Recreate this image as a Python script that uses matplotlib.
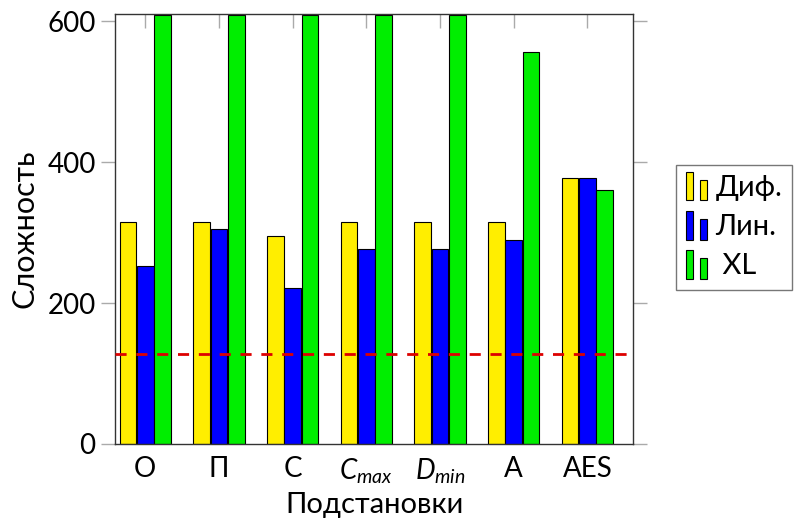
import matplotlib
matplotlib.use('agg')
import matplotlib.pyplot as plt
from matplotlib.patches import Rectangle
import numpy as np

plt.rcParams['font.family'] = ['Lato', 'DejaVu Sans']
plt.rcParams['mathtext.fontset'] = 'custom'
plt.rcParams['mathtext.rm'] = 'Lato'
plt.rcParams['mathtext.it'] = 'Lato:italic'
plt.rcParams['font.size'] = 20

# data
categories = ['O', 'П', 'C', '$C_{max}$', '$D_{min}$', 'A', 'AES']
series_names = ['Диф.', 'Лин.', 'XL']
dif_vals = [315, 315, 295, 315, 315, 315, 378]
lin_vals = [252, 305, 221, 277, 277, 290, 378]
xl_vals = [608, 608, 608, 608, 608, 556, 361]
threshold = 128

colors = ['#ffee00', '#0000ff', '#00ee00']


class TwoBarHandler:
    # pgfplots style ybar legend image: two little bars
    def legend_artist(self, legend, orig_handle, fontsize, handlebox):
        x0, y0 = handlebox.xdescent, handlebox.ydescent
        w, h = handlebox.width, handlebox.height
        fc = orig_handle.get_facecolor()
        r1 = Rectangle((x0, y0 - 3), w * 0.3, h + 6, facecolor=fc,
                       edgecolor='black', lw=0.8, transform=handlebox.get_transform())
        r2 = Rectangle((x0 + w * 0.6, y0 - 3), w * 0.3, h, facecolor=fc,
                       edgecolor='black', lw=0.8, transform=handlebox.get_transform())
        handlebox.add_artist(r1)
        handlebox.add_artist(r2)
        return r1


fig = plt.figure(figsize=(7.95, 5.21), dpi=100)
ax = fig.add_axes([0.1447, 0.1478, 0.6515, 0.8253])

x = np.arange(len(categories))
width = 0.225
bars = []
for i, vals in enumerate([dif_vals, lin_vals, xl_vals]):
    b = ax.bar(x + (i - 1) * 0.235, vals, width, color=colors[i],
               edgecolor='black', linewidth=0.8, label=series_names[i], zorder=2)
    bars.append(b)

ax.axhline(threshold, color='#dd0000', lw=2, ls=(0, (4, 3.5)), zorder=3)

ax.set_xlim(-0.41, 6.62)
ax.set_ylim(0, 610)
ax.set_xticks(x)
ax.set_xticklabels(categories)
ax.set_yticks([0, 200, 400, 600])
ax.tick_params(axis='x', direction='in', top=True, length=10, color='#aaaaaa',
               width=1, pad=9)
ax.tick_params(axis='y', direction='out', right=True, length=10, color='#aaaaaa',
               width=1, pad=4)
for s in ax.spines.values():
    s.set_linewidth(1)
    s.set_color('#333333')

ax.set_ylabel('Сложность', fontsize=22, labelpad=6)
ax.set_xlabel('Подстановки', fontsize=21, labelpad=4)

leg = ax.legend([b.patches[0] for b in bars], series_names,
                handler_map={type(bars[0].patches[0]): TwoBarHandler()},
                loc='upper left', bbox_to_anchor=(676 / 795, 1 - 165 / 521),
                bbox_transform=fig.transFigure, borderaxespad=0,
                frameon=True, fancybox=False,
                edgecolor='#555555', handlelength=0.8, handletextpad=0.2,
                labelspacing=0.45, borderpad=0.35, fontsize=21)
leg.get_frame().set_linewidth(1)
leg.get_texts()[2].set_text(' XL')

fig.savefig('out.png', dpi=100)
